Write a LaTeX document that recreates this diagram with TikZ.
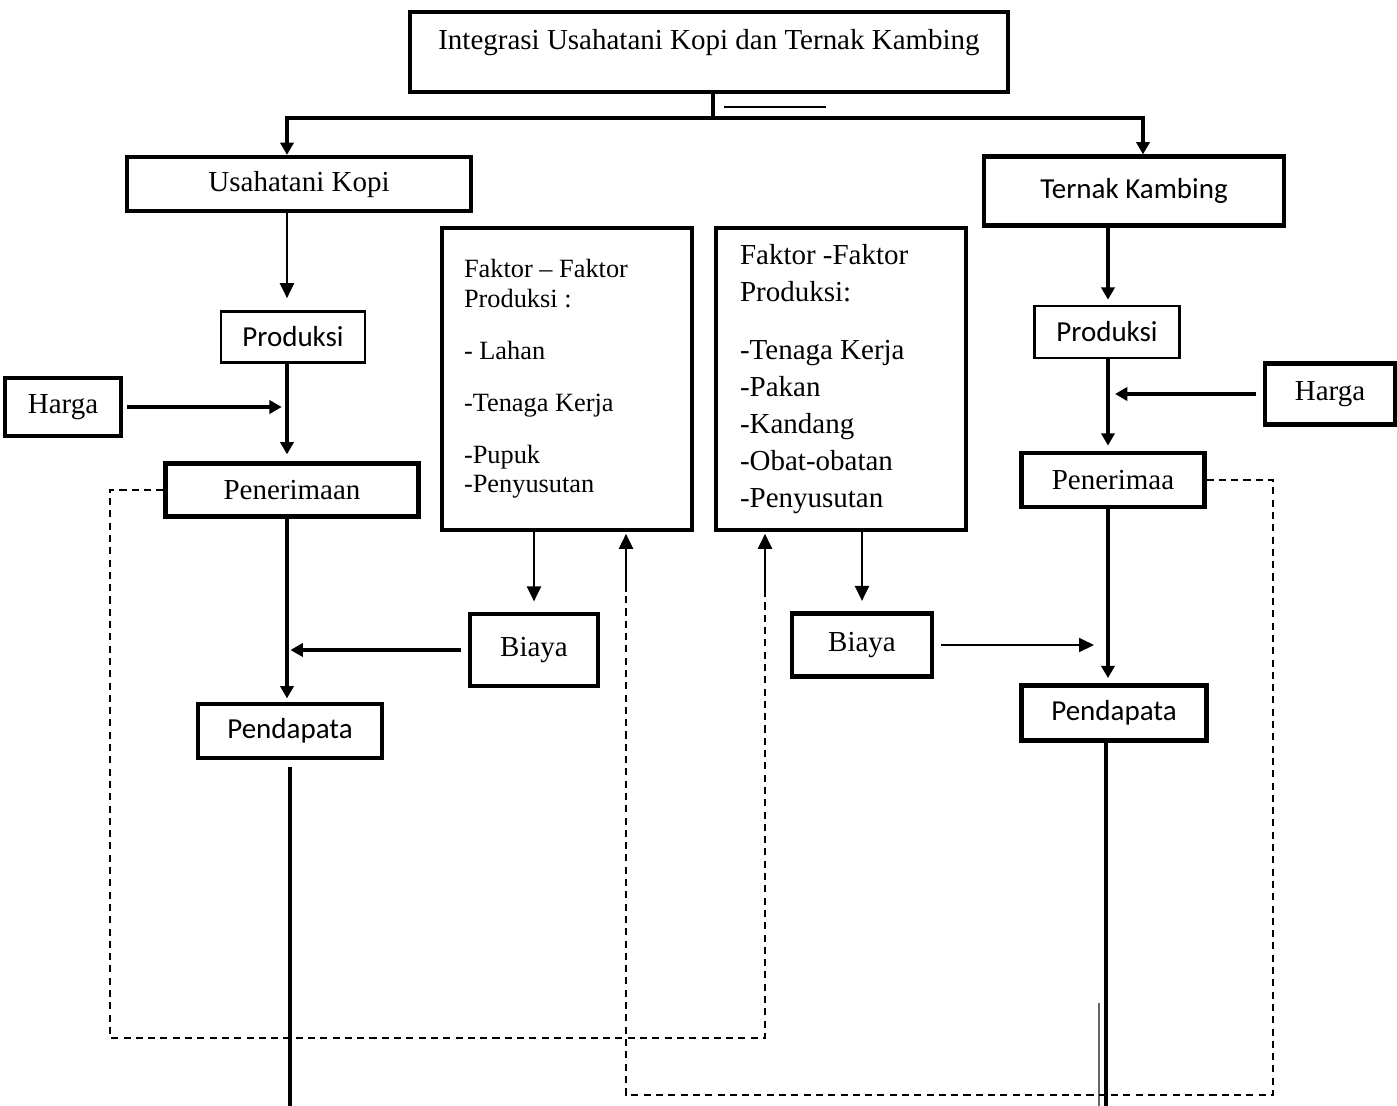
\documentclass[tikz,border=0pt]{standalone}
\usepackage{amsmath}
\usepackage{fontspec}
\setmainfont{Liberation Serif}
\newfontfamily\calibri{Carlito}
\usetikzlibrary{arrows.meta}

\begin{document}
\begin{tikzpicture}[x=0.02cm,y=-0.02cm]
		\tikzstyle{every node}+=[inner sep=0pt, font=\fontsize{16.5}{20}\selectfont]
		\tikzstyle{box}=[draw, line width=2.4pt]
		\tikzstyle{thinbox}=[draw, line width=1.2pt]
		\tikzstyle{sans}=[font=\calibri\fontsize{16.5}{20}\selectfont]
		\tikzstyle{thinarrow}=[line width=1.1pt, -{Triangle[length=8.5pt,width=8pt]}]
		\tikzstyle{thickarrow}=[line width=2.2pt, -{Triangle[length=7pt,width=7.5pt]}]
		\tikzstyle{feedback}=[line width=0.8pt, dash pattern=on 4pt off 3pt]
		\useasboundingbox (0,0) rectangle (1397,1106);
		\node [box, minimum width=11.96cm, minimum height=1.6cm, text depth=0.5cm] (top) at (709,52) {Integrasi Usahatani Kopi dan Ternak Kambing};
		\node [box, minimum width=6.88cm, minimum height=1.08cm, text depth=0.12cm] (usaha) at (299,184) {Usahatani Kopi};
		\node [thinbox, sans, minimum width=2.88cm, minimum height=1.02cm] (prodL) at (293,337) {Produksi};
		\node [box, minimum width=2.32cm, minimum height=1.16cm] (hargaL) at (63,407) {Harga};
		\node [box, minimum width=5.06cm, minimum height=1.06cm] (terimaL) at (292,490) {Penerimaan};
		\node [box, minimum width=2.56cm, minimum height=1.44cm] (biayaL) at (534,650) {Biaya};
		\node [box, sans, minimum width=3.68cm, minimum height=1.08cm] (dapatL) at (290,731) {Pendapata};
		\node [box, minimum width=5cm, minimum height=6.04cm, text width=4.12cm, align=flush left, font=\fontsize{15}{17}\selectfont] (faktorL) at (567,379) {Faktor -- Faktor\\Produksi :\\[12.5pt]- Lahan\\[12.5pt]-Tenaga Kerja\\[12.5pt]-Pupuk\\-Penyusutan};
		\node [box, minimum width=5cm, minimum height=6.04cm, text width=4.04cm, align=flush left, font=\fontsize{16.5}{21}\selectfont] (faktorR) at (841,379) {Faktor -Faktor\\Produksi:\\[12pt]-Tenaga Kerja\\-Pakan\\-Kandang\\-Obat-obatan\\-Penyusutan};
		\node [box, minimum width=2.8cm, minimum height=1.26cm] (biayaR) at (862,645) {Biaya};
		\node [box, sans, minimum width=6cm, minimum height=1.38cm] (ternak) at (1134,191) {Ternak Kambing};
		\node [thinbox, sans, minimum width=2.9cm, minimum height=1.04cm] (prodR) at (1107,332) {Produksi};
		\node [box, minimum width=2.6cm, minimum height=1.22cm] (hargaR) at (1330,394) {Harga};
		\node [box, minimum width=3.66cm, minimum height=1.08cm] (terimaR) at (1113,480) {Penerimaa};
		\node [box, sans, minimum width=3.7cm, minimum height=1.1cm] (dapatR) at (1114,713) {Pendapata};
		\coordinate (split) at (713,118);
		\coordinate (splitL) at (287,118);
		\coordinate (splitR) at (1143,118);
		\coordinate (colL) at (287,0);
		\coordinate (colR) at (1108,0);
		\coordinate (endL) at (290,1106);
		\coordinate (endR) at (1106,1106);
		\coordinate (cornerL) at (110,1038);
		\coordinate (cornerR) at (1273,1095);
		\coordinate (backL) at (765,592);
		\coordinate (backR) at (626,592);
		\draw [line width=2.2pt] (top.south -| split) -- (split);
		\draw [thickarrow] (split) -- (splitL) -- (splitL |- usaha.north);
		\draw [thickarrow] (split) -- (splitR) -- (splitR |- ternak.north);
		\draw [line width=0.8pt] (724,107) -- (826,107);
		\draw [thinarrow, shorten >=7pt] (usaha.south -| colL) -- (prodL.north -| colL);
		\draw [thickarrow, shorten >=4pt] (prodL.south -| colL) -- (terimaL.north -| colL);
		\draw [thickarrow, shorten <=2pt, shorten >=3pt] (hargaL.east) -- (hargaL.east -| colL);
		\draw [thickarrow, shorten >=2pt] (terimaL.south -| colL) -- (dapatL.north -| colL);
		\draw [thickarrow, shorten <=4pt, shorten >=2pt] (biayaL.west) -- (biayaL.west -| colL);
		\draw [line width=2.6pt, shorten <=4pt] (dapatL.south -| endL) -- (endL);
		\draw [thinarrow, shorten >=6pt] (faktorL.south -| biayaL.north) -- (biayaL.north);
		\draw [thinarrow, shorten >=6pt] (faktorR.south -| biayaR.north) -- (biayaR.north);
		\draw [thinarrow, shorten <=4pt, shorten >=8pt] (biayaR.east) -- (biayaR.east -| colR);
		\draw [thickarrow, shorten >=3pt] (ternak.south -| colR) -- (prodR.north -| colR);
		\draw [thickarrow, shorten >=3pt] (prodR.south -| colR) -- (terimaR.north -| colR);
		\draw [thickarrow, shorten <=4pt, shorten >=4pt] (hargaR.west) -- (hargaR.west -| colR);
		\draw [thickarrow, shorten >=3pt] (terimaR.south -| colR) -- (dapatR.north -| colR);
		\draw [line width=2.6pt] (dapatR.south -| endR) -- (endR);
		\draw [line width=0.8pt, black!60] (1099,1003) -- (1099,1106);
		\draw [feedback] (terimaL.west) -| (cornerL) -| (backL);
		\draw [thinarrow, shorten >=1pt] (backL) -- (backL |- faktorR.south);
		\draw [feedback] (terimaR.east) -| (cornerR) -| (backR);
		\draw [thinarrow, shorten >=1pt] (backR) -- (backR |- faktorL.south);
	\end{tikzpicture}
\end{document}
